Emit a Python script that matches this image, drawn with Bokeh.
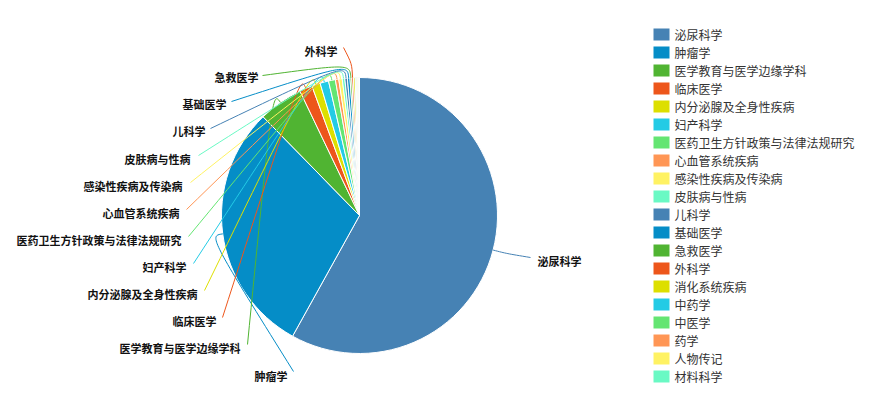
import math

from bokeh.core.properties import value
from bokeh.embed import file_html
from bokeh.models import ColumnDataSource, Range1d
from bokeh.plotting import figure
from bokeh.resources import INLINE

# ---- data -----------------------------------------------------------------
categories = [
    "泌尿科学", "肿瘤学", "医学教育与医学边缘学科", "临床医学", "内分泌腺及全身性疾病",
    "妇产科学", "医药卫生方针政策与法律法规研究", "心血管系统疾病", "感染性疾病及传染病",
    "皮肤病与性病", "儿科学", "基础医学", "急救医学", "外科学", "消化系统疾病",
    "中药学", "中医学", "药学", "人物传记", "材料科学",
]
counts = [580, 296, 52, 15, 10, 10, 8, 4, 4, 3, 3, 3, 2, 2, 2, 1, 1, 1, 1, 1]

palette = ["#4682b4", "#058dc7", "#50b432", "#ed561b", "#dddf00",
           "#24cbe5", "#64e572", "#ff9655", "#fff263", "#6af9c4"]

# ---- layout (pixel coordinates, y measured downwards) ---------------------
W, H = 870, 414
CX, CY, R = 359, 215, 138
LINE_OUT = 14
FONT = "Noto Sans CJK SC"

# label text anchor (x, y, align) and leader-line end point
label_layout = {
    "泌尿科学": (537, 260, "left", 530, 257),
    "肿瘤学": (287, 375, "right", 293, 371),
    "医学教育与医学边缘学科": (240, 347, "right", 247, 344),
    "临床医学": (216, 320, "right", 222, 317),
    "内分泌腺及全身性疾病": (197, 293, "right", 204, 290),
    "妇产科学": (186, 266, "right", 193, 263),
    "医药卫生方针政策与法律法规研究": (181, 239, "right", 188, 236),
    "心血管系统疾病": (179, 212, "right", 186, 209),
    "感染性疾病及传染病": (182, 185, "right", 190, 182),
    "皮肤病与性病": (190, 158, "right", 198, 155),
    "儿科学": (205, 130, "right", 210, 128),
    "基础医学": (226, 103, "right", 231, 101),
    "急救医学": (258, 76, "right", 262, 75),
    "外科学": (337, 50, "right", 343, 47),
}

LEG_X, LEG_Y0, LEG_STEP = 661, 34, 18


def fy(y):
    """Convert a downward pixel y into the plot's data y."""
    return H - y


colors = [palette[i % len(palette)] for i in range(len(categories))]
total = float(sum(counts))

# slices start at 12 o'clock and run clockwise
starts, ends, mids = [], [], []
acc = 0.0
for c in counts:
    a0 = acc / total * 2 * math.pi
    acc += c
    a1 = acc / total * 2 * math.pi
    starts.append(math.pi / 2 - a0)
    ends.append(math.pi / 2 - a1)
    mids.append((a0 + a1) / 2)

p = figure(width=W, height=H, x_range=Range1d(0, W), y_range=Range1d(0, H),
           output_backend="svg", toolbar_location=None,
           x_axis_location=None, y_axis_location=None, min_border=0)
p.grid.visible = False
p.outline_line_color = None
p.background_fill_color = "white"

pie = ColumnDataSource(dict(cat=categories, val=counts, start=starts, end=ends, color=colors))
p.wedge(x=CX, y=fy(CY), radius=R, start_angle="start", end_angle="end",
        direction="clock", fill_color="color", line_color="white", line_width=1,
        source=pie)

# leader lines (smoothed: edge -> outward bend -> label) and slice labels
lx0, ly0, lx1, ly1, lcx, lcy, lcol = [], [], [], [], [], [], []
tx, ty, tt, talign = [], [], [], []
for i, cat in enumerate(categories):
    if cat not in label_layout:
        continue
    x_t, y_t, align, ex, ey = label_layout[cat]
    th = mids[i]
    sx, sy = CX + R * math.sin(th), CY - R * math.cos(th)
    ox, oy = CX + (R + LINE_OUT) * math.sin(th), CY - (R + LINE_OUT) * math.cos(th)
    lx0.append(sx); ly0.append(fy(sy))
    lcx.append(ox); lcy.append(fy(oy))
    lx1.append(ex); ly1.append(fy(ey))
    lcol.append(colors[i])
    tx.append(x_t); ty.append(fy(y_t)); tt.append(cat); talign.append(align)

p.bezier(x0="x0", y0="y0", x1="x1", y1="y1", cx0="cx", cy0="cy", cx1="cx", cy1="cy",
         line_color="color", line_width=1,
         source=ColumnDataSource(dict(x0=lx0, y0=ly0, x1=lx1, y1=ly1,
                                      cx=lcx, cy=lcy, color=lcol)))

p.text(x="x", y="y", text="t", text_align="align", text_baseline="middle",
       text_font=value(FONT), text_font_size="11px", text_font_style="bold",
       text_color="#111111",
       source=ColumnDataSource(dict(x=tx, y=ty, t=tt, align=talign)))

# legend on the right
leg_y = [fy(LEG_Y0 + LEG_STEP * i) for i in range(len(categories))]
p.rect(x=LEG_X, y=leg_y, width=16, height=12, fill_color=colors, line_color=None)
p.text(x=LEG_X + 13, y=leg_y, text=categories, text_align="left",
       text_baseline="middle", text_font=value(FONT), text_font_size="12px",
       text_color="#333333")

open("out.html", "w").write(file_html(p, INLINE))
